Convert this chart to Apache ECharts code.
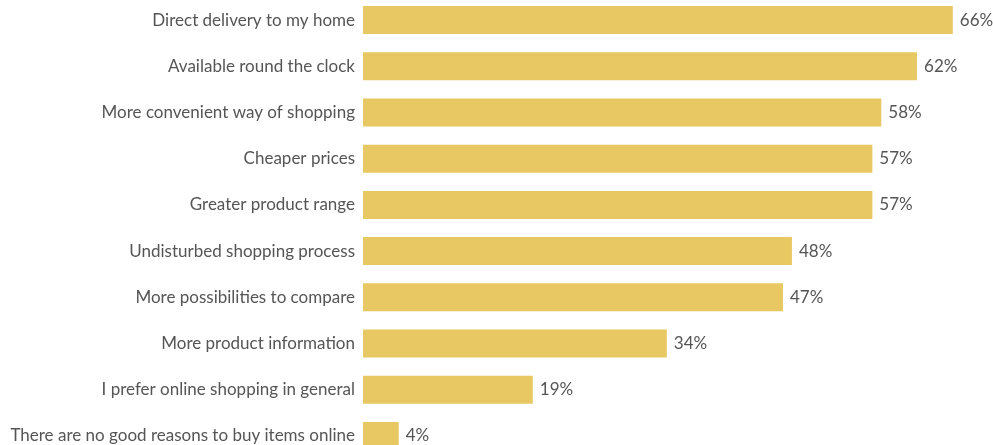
<!doctype html>
<meta charset="utf-8">
<title>Reasons for online shopping</title>
<style>
	html, body { margin: 0; padding: 0; background: #fff; overflow: hidden; }
	body { width: 993px; height: 445px; position: relative; }
	/* rows run past the bottom edge in the reference, so the canvas is taller and shifted up */
	#chart { position: absolute; left: 0; top: -3px; width: 993px; height: 462px; }
</style>
<div id="chart"></div>
<script src="https://cdn.jsdelivr.net/npm/echarts@6/dist/echarts.min.js"></script>
<script>
	const categories = [
		"Direct delivery to my home",
		"Available round the clock",
		"More convenient way of shopping",
		"Cheaper prices",
		"Greater product range",
		"Undisturbed shopping process",
		"More possibilities to compare",
		"More product information",
		"I prefer online shopping in general",
		"There are no good reasons to buy items online"
	];
	const shares = [66, 62, 58, 57, 57, 48, 47, 34, 19, 4];

	var chart = echarts.init(document.getElementById('chart'));
	chart.setOption({
		animation: false,
		grid: { left: 363, right: 0, top: 0, bottom: 0, containLabel: false },
		xAxis: {
			type: 'value',
			min: 0,
			max: 70.5,
			show: false
		},
		yAxis: {
			type: 'category',
			inverse: true,
			data: categories,
			axisLine: { show: false },
			axisTick: { show: false },
			axisLabel: {
				margin: 8,
				color: '#555555',
				fontSize: 17,
				fontFamily: 'Lato'
			}
		},
		series: [{
			type: 'bar',
			data: shares,
			barWidth: 28,
			itemStyle: { color: '#E8C862' },
			label: {
				show: true,
				position: 'right',
				distance: 7,
				formatter: '{c}%',
				color: '#555555',
				fontSize: 17,
				fontFamily: 'Lato'
			}
		}]
	});
</script>
